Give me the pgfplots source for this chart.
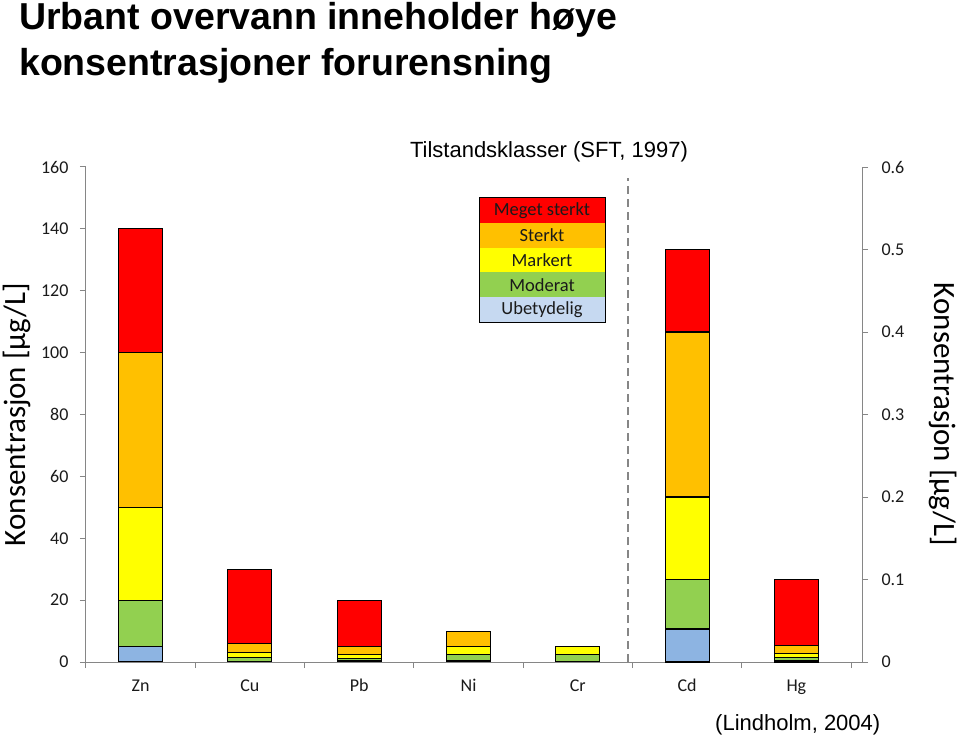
\documentclass[border=0pt]{standalone}
\usepackage{pgfplots}
\pgfplotsset{compat=1.18}
\usepackage{fontspec}
\setmainfont{Liberation Sans}
\newfontfamily\calibri{Carlito}
\definecolor{cRed}{HTML}{FF0000}
\definecolor{cOrange}{HTML}{FFC000}
\definecolor{cYellow}{HTML}{FFFF00}
\definecolor{cGreen}{HTML}{92D050}
\definecolor{cBlue}{HTML}{8DB4E2}
\definecolor{cLegBlue}{HTML}{C6D9F1}
\definecolor{axgray}{HTML}{868686}
\definecolor{txt}{HTML}{1A1A1A}
\pgfplotsset{seg/.style={bar shift=0pt, bar width=44pt, draw=black, line width=1.1pt}}
\begin{document}
\begin{tikzpicture}[x=1pt,y=1pt]
\path[use as bounding box] (0,0) rectangle (960,740);
\node[anchor=base west, inner sep=0, font=\fontsize{37.5}{42}\selectfont\bfseries] at (19,710) {Urbant overvann inneholder høye};
\node[anchor=base west, inner sep=0, font=\fontsize{37.5}{42}\selectfont\bfseries] at (19,664) {konsentrasjoner forurensning};
% left axis
\begin{axis}[at={(86pt,78pt)}, anchor=south west, scale only axis,
  width=765pt, height=495pt,
  xmin=-0.5, xmax=6.5, ymin=0, ymax=160,
  ybar,
  axis x line*=bottom, axis y line*=left,
  axis line style={draw=axgray, line width=1pt},
  tick align=outside, major tick length=6pt,
  tick style={draw=axgray, line width=1pt},
  ytick={0,20,...,160},
  xtick={-0.5,0.5,...,6.5}, x tick label as interval,
  xticklabels={Zn,Cu,Pb,Ni,Cr,Cd,Hg},
  xticklabel style={font=\calibri\fontsize{18}{20}\selectfont, text=txt, text height=0.66em, text depth=0.2em, yshift=-13pt},
  yticklabel style={font=\calibri\fontsize{18}{20}\selectfont, text=txt, xshift=-8pt},
  /pgf/number format/assume math mode=true,
  ylabel={Konsentrasjon [µg/L]},
  ylabel style={font=\calibri\fontsize{31}{35}\selectfont, at={(axis description cs:-0.09,0.5)}, anchor=center, rotate=0},
  clip=false,
]
\addplot[seg, fill=cRed] coordinates {(0,140) (1,30) (2,20)};
\addplot[seg, fill=cOrange] coordinates {(0,100) (1,6) (2,5) (3,10)};
\addplot[seg, fill=cYellow] coordinates {(0,50) (1,3) (2,2.5) (3,5) (4,5)};
\addplot[seg, fill=cGreen] coordinates {(0,20) (1,1.5) (2,1.2) (3,2.5) (4,2.5)};
\addplot[seg, fill=cBlue] coordinates {(0,5) (1,0.3) (2,0.5) (3,0.5) (4,0.2)};
\draw[axgray, line width=1.6pt, dash pattern=on 8pt off 5pt] (axis cs:4.46,0) -- (axis cs:4.46,156.5);
\end{axis}
% right axis
\begin{axis}[at={(86pt,78pt)}, anchor=south west, scale only axis,
  width=776pt, height=495pt,
  xmin=-0.5, xmax=6.6, ymin=0, ymax=0.6,
  ybar,
  axis x line*=bottom, axis y line*=right,
  axis line style={draw=axgray, line width=1pt},
  tick align=outside, major tick length=6pt,
  tick style={draw=axgray, line width=1pt},
  xtick=\empty,
  ytick={0,0.1,...,0.6},
  yticklabels={0,0.1,0.2,0.3,0.4,0.5,0.6},
  yticklabel style={font=\calibri\fontsize{18}{20}\selectfont, text=txt, xshift=10pt},
  ylabel={Konsentrasjon [µg/L]},
  ylabel style={font=\calibri\fontsize{31}{35}\selectfont, at={(axis description cs:1.104,0.5)}, anchor=center, rotate=180},
  clip=false,
]
\addplot[seg, fill=cRed] coordinates {(5,0.5) (6,0.1)};
\addplot[seg, fill=cOrange] coordinates {(5,0.4) (6,0.02)};
\addplot[seg, fill=cYellow] coordinates {(5,0.2) (6,0.01)};
\addplot[seg, fill=cGreen] coordinates {(5,0.1) (6,0.005)};
\addplot[seg, fill=cBlue] coordinates {(5,0.04) (6,0.002)};
\end{axis}
% legend
\begin{scope}[font=\calibri\fontsize{18.5}{20}\selectfont, text=txt]
\fill[cRed] (479,517.2) rectangle (605,542);
\fill[cOrange] (479,492.4) rectangle (605,517.2);
\fill[cYellow] (479,467.6) rectangle (605,492.4);
\fill[cGreen] (479,442.8) rectangle (605,467.6);
\fill[cLegBlue] (479,418) rectangle (605,442.8);
\draw[black, line width=1pt] (479,418) rectangle (605,542);
\node at (542,529.6) {Meget sterkt};
\node at (542,504.8) {Sterkt};
\node at (542,480) {Markert};
\node at (542,455.2) {Moderat};
\node at (542,430.4) {Ubetydelig};
\end{scope}
\node[anchor=base, inner sep=0, font=\fontsize{22}{25}\selectfont] at (549,582) {Tilstandsklasser (SFT, 1997)};
\node[anchor=base west, inner sep=0, font=\fontsize{22}{25}\selectfont] at (715,10) {(Lindholm, 2004)};
\end{tikzpicture}
\end{document}
